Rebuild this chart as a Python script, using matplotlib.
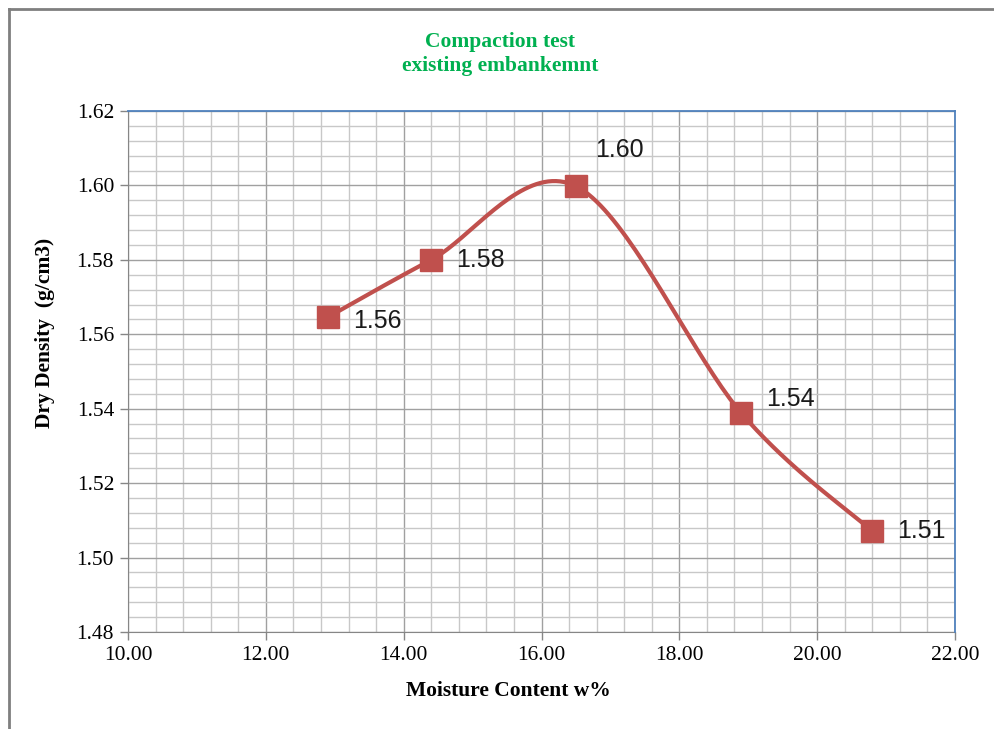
import numpy as np
import matplotlib.pyplot as plt
from matplotlib.lines import Line2D
from matplotlib.ticker import MultipleLocator

# compaction test results
moisture = [12.9, 14.4, 16.5, 18.9, 20.8]
density = [1.5646, 1.580, 1.5998, 1.5388, 1.5071]
labels = ['1.56', '1.58', '1.60', '1.54', '1.51']
label_offsets = [(18, -3), (18, 0), (14, 26), (18, 10), (18, 0)]  # points

red = '#C0504D'
green = '#00B050'
blue = '#4F81BD'
gray = '#868686'

fig = plt.figure(figsize=(9.95, 7.29), dpi=100)
ax = fig.add_axes([128 / 995, 1 - 632 / 729, (955 - 128) / 995, (632 - 111) / 729])

ax.set_xlim(10, 22)
ax.set_ylim(1.48, 1.62)
ax.xaxis.set_major_locator(MultipleLocator(2))
ax.xaxis.set_minor_locator(MultipleLocator(0.4))
ax.yaxis.set_major_locator(MultipleLocator(0.02))
ax.yaxis.set_minor_locator(MultipleLocator(0.004))
ax.xaxis.set_major_formatter(lambda v, p: f'{v:.2f}')
ax.yaxis.set_major_formatter(lambda v, p: f'{v:.2f}')

ax.grid(which='major', color='#a0a0a0', lw=1.0)
ax.grid(which='minor', color='#c8c8c8', lw=1.0)
ax.set_axisbelow(True)
ax.tick_params(which='major', direction='out', length=6, color=gray, width=1,
               labelsize=15.5, pad=4)
ax.tick_params(which='minor', length=0)
for lab in ax.get_xticklabels() + ax.get_yticklabels():
    lab.set_fontfamily('Liberation Serif')
for s in ['left', 'bottom']:
    ax.spines[s].set_color(gray)
for s in ['top', 'right']:
    ax.spines[s].set_color(blue)
    ax.spines[s].set_linewidth(1.3)
    ax.spines[s].set_zorder(5)

# smoothed line like a spreadsheet "smooth line": bezier through points in screen space
pts = ax.transData.transform(np.column_stack([moisture, density]))
n = len(pts)
curve = []
t = np.linspace(0, 1, 40)[:, None]
for i in range(n - 1):
    p0 = pts[max(i - 1, 0)]
    p1 = pts[i]
    p2 = pts[i + 1]
    p3 = pts[min(i + 2, n - 1)]
    c1 = p1 + (p2 - p0) / 6
    c2 = p2 - (p3 - p1) / 6
    seg = ((1 - t) ** 3) * p1 + 3 * ((1 - t) ** 2) * t * c1 + 3 * (1 - t) * t ** 2 * c2 + t ** 3 * p2
    curve.append(seg)
curve = ax.transData.inverted().transform(np.vstack(curve))
ax.plot(curve[:, 0], curve[:, 1], color=red, lw=3, solid_capstyle='round', zorder=3)
ax.plot(moisture, density, ls='none', marker='s', ms=16.5, color=red, zorder=4)

for x, y, s, off in zip(moisture, density, labels, label_offsets):
    ax.annotate(s, (x, y), xytext=off, textcoords='offset points', ha='left', va='center',
                fontsize=18, fontfamily='Liberation Sans', color='#1a1a1a')

fig.text(500 / 995, 1 - 42 / 729, 'Compaction test', ha='center', va='center',
         fontsize=15.5, fontweight='bold', fontfamily='Liberation Serif', color=green)
fig.text(500 / 995, 1 - 66 / 729, 'existing embankemnt', ha='center', va='center',
         fontsize=15.5, fontweight='bold', fontfamily='Liberation Serif', color=green)
fig.text(508 / 995, 1 - 691 / 729, 'Moisture Content w%', ha='center', va='center',
         fontsize=15.5, fontweight='bold', fontfamily='Liberation Serif')
fig.text(45 / 995, 1 - 333 / 729, 'Dry Density  (g/cm3)', ha='center', va='center', rotation=90,
         fontsize=15.5, fontweight='bold', fontfamily='Liberation Serif')

# chart area border
fig.add_artist(Line2D([8.5 / 995, 8.5 / 995], [0, 1 - 8.5 / 729], color='#7f7f7f', lw=2))
fig.add_artist(Line2D([8.5 / 995, 1], [1 - 8.5 / 729, 1 - 8.5 / 729], color='#7f7f7f', lw=2))

fig.savefig('out.png', dpi=100)
